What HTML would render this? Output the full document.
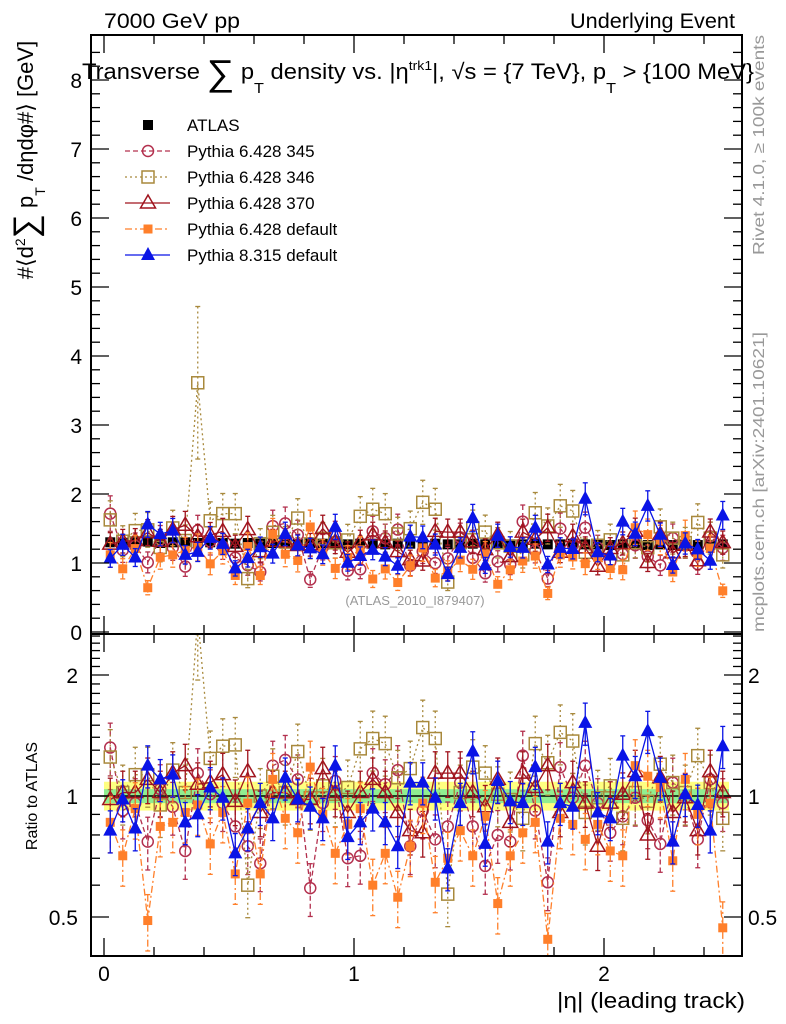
<!DOCTYPE html>
<html><head><meta charset="utf-8"><style>
html,body{margin:0;padding:0;background:#fff;}
svg{display:block;font-family:"Liberation Sans",sans-serif;}
</style></head><body>
<svg id="chart" width="786" height="1024" viewBox="0 0 786 1024" xmlns="http://www.w3.org/2000/svg">
<defs>
<clipPath id="cm"><rect x="91" y="35" width="651" height="599"/></clipPath>
<clipPath id="cr"><rect x="91" y="634" width="651" height="322"/></clipPath>
</defs>
<text x="104" y="28" font-size="21" textLength="136" lengthAdjust="spacingAndGlyphs">7000 GeV pp</text>
<text x="735" y="28" font-size="21" text-anchor="end" textLength="165" lengthAdjust="spacingAndGlyphs">Underlying Event</text>
<g id="plot"></g>
<text x="82" y="79" font-size="22" textLength="672" lengthAdjust="spacingAndGlyphs">Transverse <tspan font-size="36" dy="6">∑</tspan><tspan dy="-6"> p</tspan><tspan font-size="15" dy="14">T</tspan><tspan dy="-14"> density vs. |η</tspan><tspan font-size="13" dy="-9">trk1</tspan><tspan dy="9">|, √s = {7 TeV}, p</tspan><tspan font-size="15" dy="14">T</tspan><tspan dy="-14"> &gt; {100 MeV}</tspan></text>
<text transform="translate(33,160) rotate(-90)" font-size="22" text-anchor="middle">#⟨d<tspan font-size="14" dy="-8">2</tspan><tspan font-size="34" dy="12">∑</tspan><tspan dy="-4"> p</tspan><tspan font-size="14" dy="12">T</tspan><tspan dy="-12"> /dηdφ#⟩ [GeV]</tspan></text>
<text transform="translate(37,796) rotate(-90)" font-size="16" text-anchor="middle">Ratio to ATLAS</text>
<text x="745" y="1008" font-size="22" text-anchor="end" textLength="188" lengthAdjust="spacingAndGlyphs">|η| (leading track)</text>
<text transform="translate(764,35) rotate(-90)" font-size="16" fill="#999" text-anchor="end" textLength="220" lengthAdjust="spacingAndGlyphs">Rivet 4.1.0, ≥ 100k events</text>
<text transform="translate(764,632) rotate(-90)" font-size="16" fill="#999" textLength="300" lengthAdjust="spacingAndGlyphs">mcplots.cern.ch [arXiv:2401.10621]</text>
<text x="415" y="605" font-size="13" fill="#999" text-anchor="middle">(ATLAS_2010_I879407)</text>
</svg>
<script>
const binCenters = Array.from({length:50},(_, i)=>0.025+0.05*i);
const atlasVals = [1.30,1.29,1.30,1.31,1.29,1.30,1.30,1.29,1.30,1.29,1.28,1.29,1.28,1.29,1.28,1.28,1.29,1.28,1.28,1.27,1.28,1.28,1.27,1.28,1.28,1.27,1.28,1.27,1.27,1.28,1.27,1.28,1.27,1.27,1.28,1.27,1.27,1.28,1.27,1.27,1.26,1.27,1.27,1.26,1.27,1.26,1.27,1.26,1.26,1.27];
const r345 = [1.32,0.92,0.96,0.77,1.04,0.94,0.73,1.14,1.01,0.96,0.84,0.75,0.68,1.19,1.23,1.10,0.59,0.96,1.09,0.70,0.71,1.14,1.07,1.16,0.75,0.92,0.78,0.84,1.08,0.84,0.67,0.80,0.77,1.26,0.92,0.61,1.18,0.99,1.19,0.96,0.81,0.89,0.99,0.87,0.76,1.08,0.99,0.78,1.10,0.96];
const r346 = [1.25,1.02,1.13,1.13,0.95,1.16,1.02,2.80,1.24,1.33,1.34,0.60,1.00,1.12,1.02,1.29,0.99,1.06,1.01,1.05,1.31,1.39,1.35,1.11,1.17,1.48,1.39,0.57,1.02,1.18,1.14,1.01,0.98,0.88,1.35,1.21,1.44,1.37,0.91,0.99,1.06,0.88,1.02,0.97,1.20,1.08,1.02,1.26,1.08,0.88];
const r370 = [0.98,1.02,1.02,1.10,1.02,1.14,1.19,1.07,1.08,1.13,0.97,1.15,0.91,1.02,1.02,0.98,0.98,1.17,1.02,0.91,1.02,1.10,1.02,0.91,0.82,0.81,1.14,1.14,1.14,1.02,0.94,1.10,0.86,1.14,1.05,1.19,0.91,1.08,0.96,0.75,0.96,1.01,1.15,0.80,1.11,0.91,0.99,0.82,1.15,1.02];
const rDef = [0.86,0.71,0.93,0.49,0.84,0.86,0.91,0.95,0.76,0.91,0.64,0.96,0.64,1.10,0.88,0.81,1.18,0.90,0.72,0.85,0.93,0.60,0.72,0.56,0.75,0.96,0.61,0.70,0.82,0.71,0.89,0.54,0.71,0.81,0.86,0.44,0.88,0.85,0.78,0.85,0.73,0.71,1.19,1.12,1.05,0.69,1.10,0.90,0.96,0.47];
const rP8 = [0.82,0.98,0.83,1.19,1.10,1.13,0.86,0.90,1.05,0.99,0.72,0.83,0.96,0.88,1.11,0.98,0.94,0.88,1.19,0.79,0.86,0.93,0.86,0.75,1.08,1.08,0.99,0.66,0.96,1.29,0.76,1.09,0.97,0.96,1.18,0.77,0.96,0.94,1.52,0.91,0.88,1.26,1.12,1.45,1.11,0.77,1.01,0.95,0.82,1.33];
const mainTicks = [0,1,2,3,4,5,6,7,8];
const ratioTickLabels = [0.5,1,2];
const xTickLabels = [0,1,2];

const NS="http://www.w3.org/2000/svg";
const X = v => 104 + 250*v;
const YM = v => 632 - 69*v;
const YR = r => 796 - 121*Math.log2(r);
const plot = document.getElementById('plot');
function mk(tag, attrs, parent){const e=document.createElementNS(NS,tag);for(const k in attrs)e.setAttribute(k,attrs[k]);(parent||plot).appendChild(e);return e;}

const band = mk('g',{'clip-path':'url(#cr)'});


mk('rect',{x:X(0),y:YR(1.085),width:X(2.5)-X(0),height:YR(0.92)-YR(1.085),fill:'#ffff80'},band);
mk('rect',{x:X(0),y:YR(1.04),width:X(2.5)-X(0),height:YR(0.96)-YR(1.04),fill:'#90ee90'},band);
mk('line',{x1:91,x2:742,y1:YR(1),y2:YR(1),stroke:'#000','stroke-width':1.5},band);

const series = [
 {name:'pythia6-345',r:r345,color:'#b3304e',dash:'5,3',marker:'ocircle',err:0.15},
 {name:'pythia6-346',r:r346,color:'#a8893c',dash:'2,3',marker:'osquare',err:0.17},
 {name:'pythia6-370',r:r370,color:'#a0141e',dash:'',marker:'otri',err:0.13},
 {name:'pythia6-default',r:rDef,color:'#ff7f2a',dash:'7,3,2,3',marker:'fsquare',err:0.16},
 {name:'pythia8-default',r:rP8,color:'#0a14e6',dash:'',marker:'ftri',err:0.12}
];
function marker(g,type,x,y,c){
  let e;
  if(type==='ocircle') e=mk('circle',{cx:x,cy:y,r:5.5,fill:'none',stroke:c,'stroke-width':1.5},g);
  else if(type==='osquare') e=mk('rect',{x:x-6,y:y-6,width:12,height:12,fill:'none',stroke:c,'stroke-width':1.5},g);
  else if(type==='fsquare') e=mk('rect',{x:x-4.5,y:y-4.5,width:9,height:9,fill:c},g);
  else if(type==='bsquare') e=mk('rect',{x:x-5,y:y-5,width:10,height:10,fill:c},g);
  else if(type==='otri') e=mk('polygon',{points:`${x},${y-8} ${x-7.5},${y+5} ${x+7.5},${y+5}`,fill:'none',stroke:c,'stroke-width':1.5},g);
  else e=mk('polygon',{points:`${x},${y-8} ${x-7},${y+5} ${x+7},${y+5}`,fill:c},g);
  return e;
}
function drawSeries(s, panel){
  const g = mk('g',{'clip-path': panel==='main'?'url(#cm)':'url(#cr)'});
  
  
  const Yf = panel==='main' ? (i,f)=>YM(s.r[i]*atlasVals[i]*f) : (i,f)=>YR(s.r[i]*f);
  const pts = binCenters.map((b,i)=>X(b)+','+Yf(i,1)).join(' ');
  mk('polyline',{points:pts,fill:'none',stroke:s.color,'stroke-width':1.3,'stroke-dasharray':s.dash},g);
  binCenters.forEach((b,i)=>{
    const x=X(b), e=s.err*(s.r[i]>2?1.8:1), y1=Yf(i,1+e), y2=Yf(i,1-e);
    mk('line',{x1:x,x2:x,y1:y1,y2:y2,stroke:s.color,'stroke-width':1.3,'stroke-dasharray':s.dash},g);
    mk('line',{x1:x-2.5,x2:x+2.5,y1:y1,y2:y1,stroke:s.color,'stroke-width':1.3},g);
    mk('line',{x1:x-2.5,x2:x+2.5,y1:y2,y2:y2,stroke:s.color,'stroke-width':1.3},g);
    const m = marker(g,s.marker,x,Yf(i,1),s.color);
    
    
  });
}
const ag = mk('g',{'clip-path':'url(#cm)'});


binCenters.forEach((b,i)=>{
  const x=X(b);
  mk('line',{x1:x,x2:x,y1:YM(atlasVals[i]*1.04),y2:YM(atlasVals[i]*0.96),stroke:'#000','stroke-width':1.3},ag);
  const m=marker(ag,'bsquare',x,YM(atlasVals[i]),'#000');
  
  
});
series.forEach(s=>{drawSeries(s,'main');drawSeries(s,'ratio');});

const ax = mk('g',{});


mk('rect',{x:91,y:35,width:651,height:599,fill:'none',stroke:'#000','stroke-width':2},ax);
mk('rect',{x:91,y:634,width:651,height:322,fill:'none',stroke:'#000','stroke-width':2},ax);
for(let v=0; v<=8.6; v+=0.2){
  const y=YM(v); if(y<35) break;
  const maj=Math.abs(v-Math.round(v))<1e-6, L=maj?18:9;
  mk('line',{x1:91,x2:91+L,y1:y,y2:y,stroke:'#000','stroke-width':1.3},ax);
  mk('line',{x1:742,x2:742-L,y1:y,y2:y,stroke:'#000','stroke-width':1.3},ax);
}
mainTicks.forEach(v=>{
  const t=mk('text',{x:82,y:YM(v)+8,'font-size':21,'text-anchor':'end'},ax); t.textContent=v;
  
  
});
for(let k=4;k<=25;k++){
  const r=k/10, y=YR(r); if(y<634||y>956) continue;
  const maj=(k===5||k===10||k===20), L=maj?18:9;
  mk('line',{x1:91,x2:91+L,y1:y,y2:y,stroke:'#000','stroke-width':1.3},ax);
  mk('line',{x1:742,x2:742-L,y1:y,y2:y,stroke:'#000','stroke-width':1.3},ax);
}
ratioTickLabels.forEach(r=>{
  const t=mk('text',{x:78,y:YR(r)+8,'font-size':21,'text-anchor':'end'},ax); t.textContent=r;
  
  
  const t2=mk('text',{x:748,y:YR(r)+8,'font-size':21},ax); t2.textContent=r;
  
  
});
for(let k=0;k<=12;k++){
  const v=k*0.2, x=X(v); if(x>742) break;
  const maj=(k%5===0), L=maj?18:9;
  [35,634].forEach(yt=>mk('line',{x1:x,x2:x,y1:yt,y2:yt+L,stroke:'#000','stroke-width':1.3},ax));
  [634,956].forEach(yb=>mk('line',{x1:x,x2:x,y1:yb,y2:yb-L,stroke:'#000','stroke-width':1.3},ax));
}
xTickLabels.forEach(v=>{
  const t=mk('text',{x:X(v),y:981,'font-size':21,'text-anchor':'middle'},ax); t.textContent=v;
  
  
});

const lg = mk('g',{});


const legendLabels=['ATLAS','Pythia 6.428 345','Pythia 6.428 346','Pythia 6.428 370','Pythia 6.428 default','Pythia 8.315 default'];
const legendStyles=[{c:'#000',m:'bsquare',d:null}].concat(series.map(s=>({c:s.color,m:s.marker,d:s.dash})));
legendLabels.forEach((lab,i)=>{
  const y=125+26*i;
  const e=mk('g',{},lg);
  
  
  if(legendStyles[i].d!==null){
    mk('line',{x1:125,x2:170,y1:y,y2:y,stroke:legendStyles[i].c,'stroke-width':1.3,'stroke-dasharray':legendStyles[i].d},e);
  }
  marker(e,legendStyles[i].m,148,y,legendStyles[i].c);
  const t=mk('text',{x:187,y:y+6,'font-size':17},e); t.textContent=lab;
});
</script>
</body></html>
